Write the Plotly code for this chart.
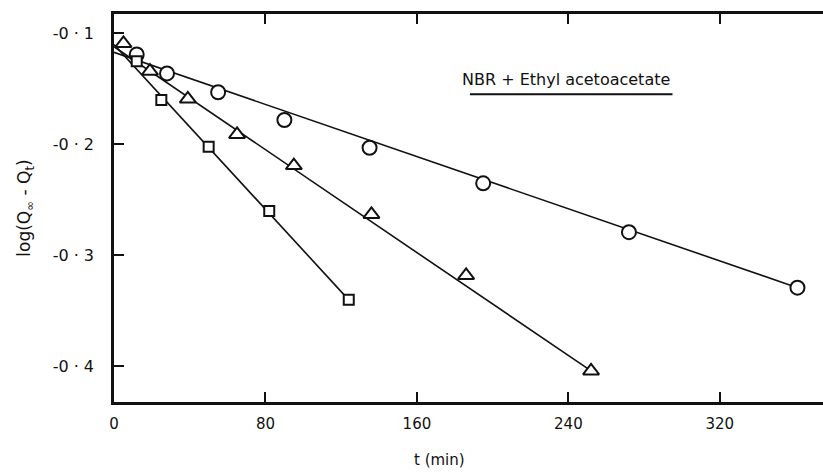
import plotly.graph_objects as go

# ---- data ----
circle_t = [12, 28, 55, 90, 135, 195, 272, 361]
circle_y = [-0.119, -0.136, -0.153, -0.178, -0.203, -0.235, -0.279, -0.329]

tri_t = [5, 19, 39, 65, 95, 136, 186, 252]
tri_y = [-0.109, -0.134, -0.159, -0.191, -0.219, -0.263, -0.318, -0.404]

sq_t = [12, 25, 50, 82, 124]
sq_y = [-0.125, -0.160, -0.202, -0.260, -0.340]

# fitted straight lines (end points)
circle_fit_t = [0, 361]
circle_fit_y = [-0.117, -0.329]
tri_fit_t = [0, 252]
tri_fit_y = [-0.112, -0.404]
sq_fit_t = [0, 124]
sq_fit_y = [-0.110, -0.340]

x_tickvals = [0, 80, 160, 240, 320]
x_ticktext = ["0", "80", "160", "240", "320"]
y_tickvals = [-0.1, -0.2, -0.3, -0.4]
y_ticktext = ["-0 · 1", "-0 · 2", "-0 · 3", "-0 · 4"]

label_text = "NBR + Ethyl acetoacetate"
label_right_t = 295
label_y = -0.1413
underline_t = [188, 295]
underline_y = -0.1548

x_title = "t (min)"
x_title_t = 172
y_title = "log(Q<sub>∞</sub> - Q<sub>t</sub>)"

FONT = "DejaVu Sans"
BLACK = "#111111"

fig = go.Figure()

line_style = dict(color=BLACK, width=1.6)
for ft, fy in [(circle_fit_t, circle_fit_y), (tri_fit_t, tri_fit_y), (sq_fit_t, sq_fit_y)]:
    fig.add_trace(go.Scatter(x=ft, y=fy, mode="lines", line=line_style,
                             showlegend=False, hoverinfo="skip"))

fig.add_trace(go.Scatter(x=circle_t, y=circle_y, mode="markers", showlegend=False,
                         marker=dict(symbol="circle", size=14, color="white",
                                     line=dict(color=BLACK, width=2))))
fig.add_trace(go.Scatter(x=tri_t, y=tri_y, mode="markers", showlegend=False,
                         marker=dict(symbol="triangle-up", size=14, color="white",
                                     line=dict(color=BLACK, width=2))))
fig.add_trace(go.Scatter(x=sq_t, y=sq_y, mode="markers", showlegend=False,
                         marker=dict(symbol="square", size=10, color="white",
                                     line=dict(color=BLACK, width=2))))

fig.add_annotation(x=label_right_t, y=label_y, text=label_text, showarrow=False,
                   xref="x", yref="y", xanchor="right",
                   font=dict(family=FONT, size=16, color=BLACK))
fig.add_shape(type="line", xref="x", yref="y", x0=underline_t[0], x1=underline_t[1],
              y0=underline_y, y1=underline_y, line=dict(color=BLACK, width=1.8))

fig.add_annotation(x=x_title_t, y=0, yref="paper", xref="x", text=x_title,
                   showarrow=False, yanchor="middle", yshift=-58,
                   font=dict(family=FONT, size=15, color=BLACK))

fig.update_layout(
    width=823, height=472,
    margin=dict(l=114, r=0, t=14, b=70),
    paper_bgcolor="white", plot_bgcolor="white",
    font=dict(family=FONT, size=15, color=BLACK),
    xaxis=dict(range=[0, 374.5], tickvals=x_tickvals, ticktext=x_ticktext,
               showgrid=False, zeroline=False, showline=True, linecolor=BLACK,
               linewidth=2.5, mirror="ticks", ticks="inside", ticklen=10,
               tickwidth=1.8, tickcolor=BLACK, ticklabelstandoff=6,
               tickfont=dict(family=FONT, size=15, color=BLACK)),
    yaxis=dict(range=[-0.432, -0.0825], tickvals=y_tickvals, ticktext=y_ticktext,
               showgrid=False, zeroline=False, showline=True, linecolor=BLACK,
               linewidth=2.5, ticks="inside", ticklen=10, tickwidth=1.8,
               tickcolor=BLACK, ticklabelstandoff=14,
               tickfont=dict(family=FONT, size=16, color=BLACK),
               title=dict(text=y_title, standoff=18,
                          font=dict(family=FONT, size=17, color=BLACK))),
)

fig.write_html("out.html")
